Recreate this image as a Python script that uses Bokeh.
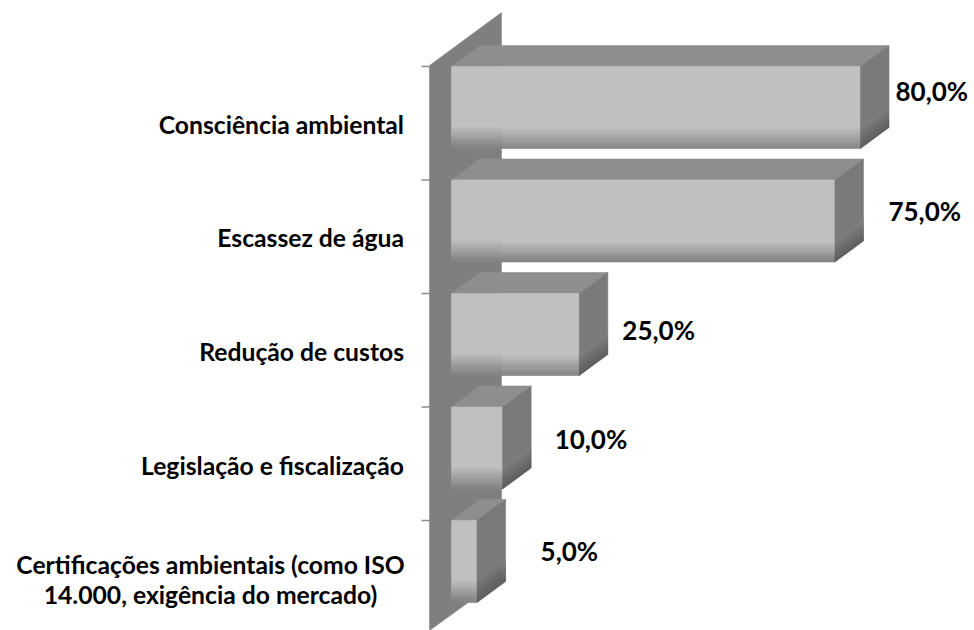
from bokeh.plotting import figure
from bokeh.models import Range1d
from bokeh.embed import file_html
from bokeh.resources import INLINE
from bokeh.core.properties import value

categories = ["Consciência ambiental", "Escassez de água", "Redução de custos",
              "Legislação e fiscalização",
              "Certificações ambientais (como ISO\n14.000, exigência do mercado)"]
values = [80.0, 75.0, 25.0, 10.0, 5.0]
value_labels = ["80,0%", "75,0%", "25,0%", "10,0%", "5,0%"]

W, H = 974, 630
X0, Y0 = 451, 66          # figure pixels of value 0 / first slot top
PX_PER_PCT = 5.1125
SLOT = 113.5
BAR = 82
DX, DY = 28.5, 21
FONT = "Lato"
LABEL_SIZE = "24.7px"
VALUE_SIZE = "26px"

xs = lambda px: px / PX_PER_PCT     # pixel length -> data units
ys = lambda px: px / SLOT

p = figure(width=W, height=H, output_backend="svg", toolbar_location=None,
           x_range=Range1d(-X0 / PX_PER_PCT, (W - X0) / PX_PER_PCT),
           y_range=Range1d((H - Y0) / SLOT, -Y0 / SLOT),
           min_border=0, outline_line_color=None, background_fill_color="white")
p.axis.visible = False
p.grid.visible = False

WALL = "#7f7f7f"
wall_w = xs(22)
ticks_y = list(range(len(categories)))
p.segment([-wall_w - xs(8)] * 5, ticks_y, [-wall_w] * 5, ticks_y, line_color="#8c8c8c", line_width=1.5)

# back wall + front edge
p.patch([-wall_w, -wall_w + xs(72), -wall_w + xs(72), -wall_w],
        [ys(-1), ys(-54), ys(512), ys(564)], fill_color=WALL, line_color=WALL, line_width=0.5)


def mix(a, b, t):
    v = round(a + (b - a) * t)
    return f"#{v:02x}{v:02x}{v:02x}"


def face(px, py, color):
    p.patch(px, py, fill_color=color, fill_alpha=1.0, line_color=color, line_alpha=1.0, line_width=0.6)


FADE_START = 0.74
STEPS = 21
for i, v in enumerate(values):
    top, bottom = i, i + ys(BAR)
    dx, dy = xs(DX), ys(DY)
    face([0, dx, v + dx, v], [top, top - dy, top - dy, top], "#8e8e8e")
    mid = top + (bottom - top) * FADE_START
    face([0, v, v, 0], [top, top, mid, mid], "#c0c0c0")
    face([v, v + dx, v + dx, v], [top, top - dy, mid - dy, mid], "#7a7a7a")
    # fading strips towards the bottom edge
    for s in range(STEPS):
        a = mid + (bottom - mid) * s / STEPS
        b = mid + (bottom - mid) * (s + 1) / STEPS
        t = (s + 0.5) / STEPS
        face([0, v, v, 0], [a, a, b, b], mix(0xc0, 0x82, t))
        face([v, v + dx, v + dx, v], [a, a - dy, b - dy, b], mix(0x7a, 0x58, t))

# category labels
LABEL_X = xs(403.5 - 451)
label_dy = [58, 57.5, 58, 58.5]
for i, c in enumerate(categories[:4]):
    p.text([LABEL_X], [i + ys(label_dy[i])], text=[c], text_font=value(FONT), text_font_style="bold",
           text_font_size=LABEL_SIZE, text_align="right", text_baseline="middle", text_color="#000000")
line1, line2 = categories[4].split("\n")
cx = xs(210 - 451)
p.text([cx], [4 + ys(44)], text=[line1], text_font=value(FONT), text_font_style="bold",
       text_font_size=LABEL_SIZE, text_align="center", text_baseline="middle", text_color="#000000")
p.text([cx], [4 + ys(74)], text=[line2], text_font=value(FONT), text_font_style="bold",
       text_font_size=LABEL_SIZE, text_align="center", text_baseline="middle", text_color="#000000")

# value labels
lab_dx = [35, 53.5, 43, 52, 63.5]
lab_dy = [24.5, 31, 36.5, 32, 30.5]
for i, (v, t) in enumerate(zip(values, value_labels)):
    p.text([v + xs(lab_dx[i])], [i + ys(lab_dy[i])], text=[t], text_font=value(FONT), text_font_style="bold",
           text_font_size=VALUE_SIZE, text_align="left", text_baseline="middle", text_color="#000000")

open("out.html", "w").write(file_html(p, INLINE))
